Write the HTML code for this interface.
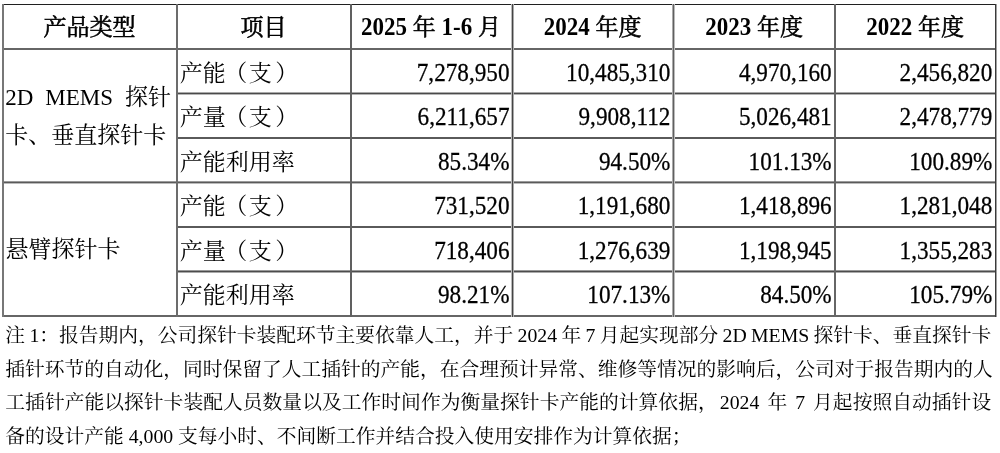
<!DOCTYPE html>
<html lang="zh-CN">
<head>
<meta charset="utf-8">
<style>
html,body{margin:0;padding:0;background:#fff;}
body{width:1000px;height:453px;position:relative;overflow:hidden;
  font-family:"Liberation Serif","Noto Serif CJK SC",serif;color:#000;}
.ln{position:absolute;}
.t{position:absolute;white-space:nowrap;font-size:23px;line-height:44px;}
.hd{font-weight:600;text-align:center;}
.l{text-align:left;}
.lp{position:relative;left:-1.5px;}
.rp{position:relative;left:3.5px;}
.cj{font-weight:400;-webkit-text-stroke:0.6px #000;}
.dg{display:inline-block;transform:scaleY(1.07);}
.r{text-align:right;font-size:23.2px;transform:scaleY(1.07);-webkit-text-stroke:0.25px #000;}
.n{position:absolute;left:5.3px;font-size:19.75px;line-height:33px;white-space:pre;}
</style>
</head>
<body>
<!-- horizontal lines -->
<div class="ln" style="left:2px;width:995px;top:4px;height:1px;background:#202020"></div>
<div class="ln" style="left:2px;width:995px;top:48px;height:2px;background:linear-gradient(#666 0px 1px,#666 1px 2px)"></div>
<div class="ln" style="left:176px;width:821px;top:92px;height:3px;background:linear-gradient(#aaa 0px 1px,#4a4a4a 1px 2px,#b5b5b5 2px 3px)"></div>
<div class="ln" style="left:176px;width:821px;top:137px;height:2px;background:linear-gradient(#5a5a5a 0px 1px,#5a5a5a 1px 2px)"></div>
<div class="ln" style="left:2px;width:995px;top:181px;height:3px;background:linear-gradient(#9a9a9a 0px 1px,#5a5a5a 1px 2px,#bbb 2px 3px)"></div>
<div class="ln" style="left:176px;width:821px;top:226px;height:2px;background:linear-gradient(#5a5a5a 0px 1px,#5a5a5a 1px 2px)"></div>
<div class="ln" style="left:176px;width:821px;top:270px;height:3px;background:linear-gradient(#999 0px 1px,#4d4d4d 1px 2px,#aaa 2px 3px)"></div>
<div class="ln" style="left:2px;width:995px;top:315px;height:2px;background:linear-gradient(#666 0px 1px,#666 1px 2px)"></div>
<!-- vertical lines -->
<div class="ln" style="left:2px;width:2px;top:4px;height:313px;background:linear-gradient(to right,#777 0px 1px,#777 1px 2px)"></div>
<div class="ln" style="left:176px;width:2px;top:4px;height:313px;background:linear-gradient(to right,#6c6c6c 0px 1px,#6c6c6c 1px 2px)"></div>
<div class="ln" style="left:350px;width:2px;top:4px;height:313px;background:linear-gradient(to right,#606060 0px 1px,#606060 1px 2px)"></div>
<div class="ln" style="left:511px;width:3px;top:4px;height:313px;background:linear-gradient(to right,#bbb 0px 1px,#444 1px 2px,#aaa 2px 3px)"></div>
<div class="ln" style="left:672px;width:3px;top:4px;height:313px;background:linear-gradient(to right,#aaa 0px 1px,#606060 1px 2px,#bbb 2px 3px)"></div>
<div class="ln" style="left:834px;width:2px;top:4px;height:313px;background:linear-gradient(to right,#666 0px 1px,#666 1px 2px)"></div>
<div class="ln" style="left:995px;width:2px;top:4px;height:313px;background:linear-gradient(to right,#3a3a3a 0px 1px,#a0a0a0 1px 2px)"></div>

<!-- header -->
<div class="t hd" style="left:3px;width:173px;top:6px"><span class="cj">产品类型</span></div>
<div class="t hd" style="left:177px;width:173px;top:6px"><span class="cj">项目</span></div>
<div class="t hd" style="left:351px;width:160px;top:6px"><span class="dg">2025</span> <span class="cj">年</span> <span class="dg">1-6</span> <span class="cj">月</span></div>
<div class="t hd" style="left:512px;width:161px;top:6px"><span class="dg">2024</span> <span class="cj">年度</span></div>
<div class="t hd" style="left:674px;width:160px;top:6px"><span class="dg">2023</span> <span class="cj">年度</span></div>
<div class="t hd" style="left:835px;width:160px;top:6px"><span class="dg">2022</span> <span class="cj">年度</span></div>

<!-- group 1 -->
<div class="t l" style="left:5.3px;top:79px;line-height:37.8px;word-spacing:6.2px">2D MEMS 探针<br>卡、垂直探针卡</div>
<div class="t l" style="left:179.7px;top:51.5px">产能<span class="lp">（</span>支<span class="rp">）</span></div>
<div class="t l" style="left:179.7px;top:95.5px">产量<span class="lp">（</span>支<span class="rp">）</span></div>
<div class="t l" style="left:179.7px;top:140.5px">产能利用率</div>
<div class="t r" style="left:351px;width:158.5px;top:49.5px">7,278,950</div>
<div class="t r" style="left:351px;width:158.5px;top:93.5px">6,211,657</div>
<div class="t r" style="left:351px;width:158.5px;top:138.5px">85.34%</div>
<div class="t r" style="left:512px;width:158.4px;top:49.5px">10,485,310</div>
<div class="t r" style="left:512px;width:158.4px;top:93.5px">9,908,112</div>
<div class="t r" style="left:512px;width:158.4px;top:138.5px">94.50%</div>
<div class="t r" style="left:674px;width:157.7px;top:49.5px">4,970,160</div>
<div class="t r" style="left:674px;width:157.7px;top:93.5px">5,026,481</div>
<div class="t r" style="left:674px;width:157.7px;top:138.5px">101.13%</div>
<div class="t r" style="left:835px;width:157.3px;top:49.5px">2,456,820</div>
<div class="t r" style="left:835px;width:157.3px;top:93.5px">2,478,779</div>
<div class="t r" style="left:835px;width:157.3px;top:138.5px">100.89%</div>

<!-- group 2 -->
<div class="t l" style="left:5.5px;top:228px">悬臂探针卡</div>
<div class="t l" style="left:179.7px;top:184.5px">产能<span class="lp">（</span>支<span class="rp">）</span></div>
<div class="t l" style="left:179.7px;top:229.5px">产量<span class="lp">（</span>支<span class="rp">）</span></div>
<div class="t l" style="left:179.7px;top:273.5px">产能利用率</div>
<div class="t r" style="left:351px;width:158.5px;top:182.5px">731,520</div>
<div class="t r" style="left:351px;width:158.5px;top:227.5px">718,406</div>
<div class="t r" style="left:351px;width:158.5px;top:271.5px">98.21%</div>
<div class="t r" style="left:512px;width:158.4px;top:182.5px">1,191,680</div>
<div class="t r" style="left:512px;width:158.4px;top:227.5px">1,276,639</div>
<div class="t r" style="left:512px;width:158.4px;top:271.5px">107.13%</div>
<div class="t r" style="left:674px;width:157.7px;top:182.5px">1,418,896</div>
<div class="t r" style="left:674px;width:157.7px;top:227.5px">1,198,945</div>
<div class="t r" style="left:674px;width:157.7px;top:271.5px">84.50%</div>
<div class="t r" style="left:835px;width:157.3px;top:182.5px">1,281,048</div>
<div class="t r" style="left:835px;width:157.3px;top:227.5px">1,355,283</div>
<div class="t r" style="left:835px;width:157.3px;top:271.5px">105.79%</div>

<!-- notes -->
<div class="n" style="top:319.3px;word-spacing:-0.6px">注 1：报告期内，公司探针卡装配环节主要依靠人工，并于 2024 年 7 月起实现部分 2D MEMS 探针卡、垂直探针卡</div>
<div class="n" style="top:352.8px">插针环节的自动化，同时保留了人工插针的产能，在合理预计异常、维修等情况的影响后，公司对于报告期内的人</div>
<div class="n" style="top:386.3px;letter-spacing:0.04px;word-spacing:3px">工插针产能以探针卡装配人员数量以及工作时间作为衡量探针卡产能的计算依据，<span style="margin-left:2px">2024</span> 年 7 月起按照自动插针设</div>
<div class="n" style="top:419.8px">备的设计产能 4,000 支每小时、不间断工作并结合投入使用安排作为计算依据；</div>
</body>
</html>
